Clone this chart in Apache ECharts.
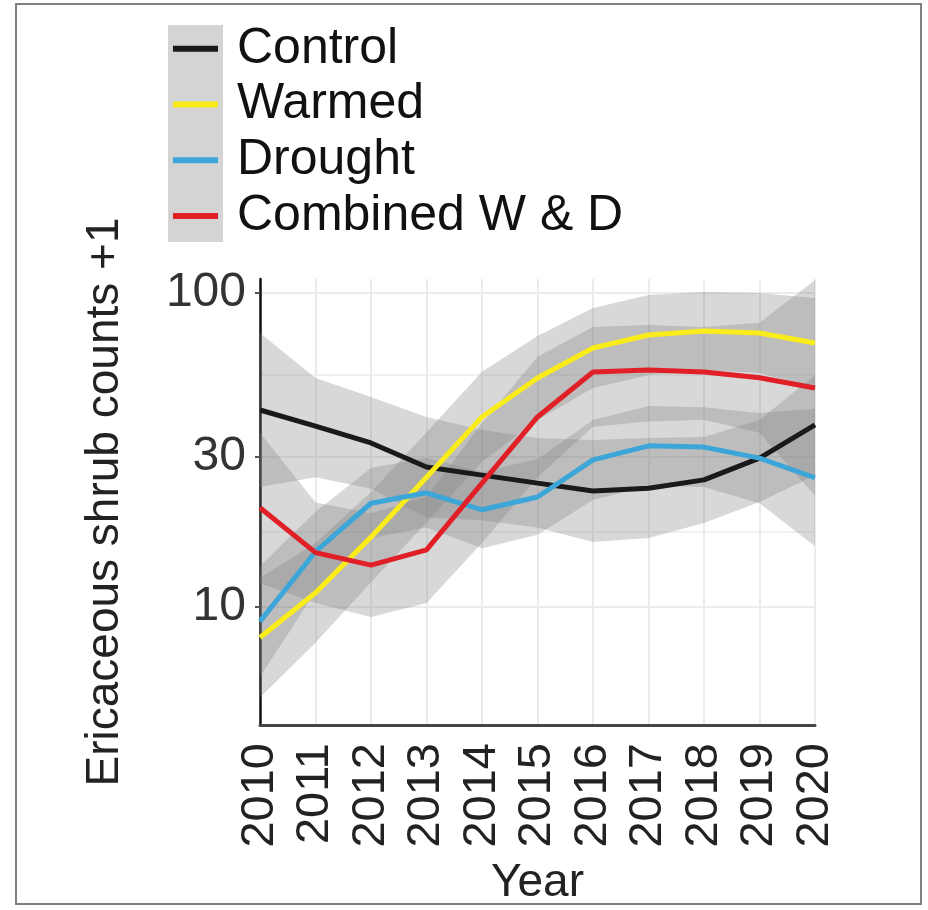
<!DOCTYPE html>
<html>
<head>
<meta charset="utf-8">
<script src="https://cdn.jsdelivr.net/npm/echarts@6/dist/echarts.min.js"></script>
<style>
html,body{margin:0;padding:0;background:#fff;}
#chart{width:928px;height:910px;}
</style>
</head>
<body>
<div id="chart"></div>
<script>
// ---- data ----
const years = ['2010','2011','2012','2013','2014','2015','2016','2017','2018','2019','2020'];
const seriesNames = ['Control','Warmed','Drought','Combined W & D'];

const controlMid = [42.4, 37.7, 33.3, 27.9, 26.3, 24.8, 23.4, 23.9, 25.4, 29.8, 38.0];
const controlHi  = [74.6, 53.6, 46.6, 40.3, 36.6, 34.5, 34.0, 34.5, 34.8, 39.4, 54.8];
const controlLo  = [24.1, 25.9, 23.8, 19.3, 18.9, 17.9, 16.1, 16.6, 18.5, 21.6, 26.3];

const warmedMid = [8.0, 11.1, 16.7, 25.9, 40.3, 53.6, 66.8, 73.5, 75.7, 74.6, 69.3];
const warmedHi  = [12.4, 16.0, 23.2, 36.0, 56.1, 73.0, 89.6, 98.6, 100.8, 100.0, 96.4];
const warmedLo  = [5.15, 7.7, 12.0, 18.6, 29.0, 39.4, 49.8, 54.8, 56.9, 55.6, 49.8];

const droughtMid = [9.0, 15.0, 21.4, 23.1, 20.4, 22.4, 29.4, 32.6, 32.3, 29.8, 25.8];
const droughtHi  = [13.5, 20.1, 27.7, 29.9, 26.9, 29.6, 39.4, 43.7, 43.3, 41.5, 42.8];
const droughtLo  = [6.0, 11.2, 16.6, 17.9, 15.4, 17.0, 21.9, 24.3, 24.1, 21.4, 15.6];

const combinedMid = [20.7, 14.9, 13.6, 15.2, 24.8, 40.3, 56.0, 56.9, 56.0, 53.7, 49.8];
const combinedHi  = [35.9, 21.5, 19.9, 22.4, 38.5, 62.6, 77.9, 79.1, 77.9, 80.4, 110.0];
const combinedLo  = [11.9, 10.3, 9.3, 10.3, 16.0, 25.9, 37.5, 39.0, 39.5, 35.9, 22.6];

const yTicks = [10, 30, 100];
const yMinorTicks = [17.32, 54.77];

// ---- styling ----
const FONT = '"Liberation Sans", Arial, Helvetica, sans-serif';
const colors = ['#1a1a1a', '#f9ec1a', '#3da6d8', '#e01f27'];
const bandFill = 'rgba(128,128,128,0.31)';
const yMin = 4.21, yMax = 110.8;

function bandSeries(lo, hi) {
  return {
    type: 'custom',
    silent: true,
    clip: true,
    z: 1,
    data: years.map((_, i) => [i, lo[i], hi[i]]),
    encode: { x: 0, y: [1, 2] },
    renderItem: function (params, api) {
      if (params.dataIndex !== 0) return null;
      const up = hi.map((v, i) => api.coord([i, v]));
      const dn = lo.map((v, i) => api.coord([i, v])).reverse();
      return {
        type: 'polygon',
        shape: { points: up.concat(dn) },
        style: { fill: bandFill, stroke: null }
      };
    }
  };
}

function lineSeries(name, data, color) {
  return {
    name: name,
    type: 'line',
    data: data,
    symbol: 'none',
    smooth: false,
    z: 3,
    lineStyle: { color: color, width: 5 },
    itemStyle: { color: color }
  };
}

const chart = echarts.init(document.getElementById('chart'), null, { renderer: 'canvas' });
chart.setOption({
  animation: false,
  backgroundColor: '#ffffff',
  textStyle: { fontFamily: FONT },
  graphic: [
    { type: 'rect', z: -10, shape: { x: 16, y: 4, width: 905, height: 900 },
      style: { fill: 'none', stroke: '#808080', lineWidth: 2 } },
    { type: 'rect', z: 0, shape: { x: 168, y: 25, width: 55, height: 217 },
      style: { fill: '#d4d4d4' } }
  ],
  legend: {
    data: seriesNames,
    orient: 'vertical',
    left: 173,
    top: 21,
    padding: 0,
    itemGap: 0,
    itemWidth: 45,
    itemHeight: 6,
    icon: 'rect',
    selectedMode: false,
    z: 5,
    textStyle: { fontSize: 50, color: '#111', lineHeight: 55.7, padding: [0, 0, 0, 14], fontFamily: FONT }
  },
  grid: { left: 260, right: 113, top: 279, bottom: 185, containLabel: false },
  xAxis: {
    type: 'category',
    data: years,
    boundaryGap: false,
    name: 'Year',
    nameLocation: 'middle',
    nameGap: 135,
    nameTextStyle: { fontSize: 46, color: '#222', fontFamily: FONT },
    axisLine: { show: true, lineStyle: { color: '#444', width: 3 } },
    axisTick: { show: false },
    axisLabel: { rotate: 90, fontSize: 47, color: '#222', margin: 18, interval: 0, fontFamily: FONT },
    splitLine: { show: true, interval: 0, lineStyle: { color: '#ebebeb', width: 2 } }
  },
  yAxis: [
    {
      type: 'log',
      logBase: 10,
      min: yMin,
      max: yMax,
      name: 'Ericaceous shrub counts +1',
      nameLocation: 'middle',
      nameGap: 132,
      nameTextStyle: { fontSize: 46, color: '#222', fontFamily: FONT },
      axisLine: { show: true, lineStyle: { color: '#111', width: 2.5 } },
      axisTick: { show: true, length: 5, customValues: yTicks, lineStyle: { color: '#555', width: 2 } },
      axisLabel: { customValues: yTicks, fontSize: 48, color: '#333', margin: 14, fontFamily: FONT },
      splitLine: { show: true, lineStyle: { color: '#ebebeb', width: 2 } }
    },
    {
      type: 'log',
      logBase: 10,
      min: yMin,
      max: yMax,
      position: 'left',
      axisLine: { show: false },
      axisTick: { show: false, customValues: yMinorTicks },
      axisLabel: { show: false, customValues: yMinorTicks },
      splitLine: { show: true, lineStyle: { color: '#ededed', width: 1.5 } }
    }
  ],
  series: [
    bandSeries(controlLo, controlHi),
    bandSeries(warmedLo, warmedHi),
    bandSeries(droughtLo, droughtHi),
    bandSeries(combinedLo, combinedHi),
    lineSeries(seriesNames[0], controlMid, colors[0]),
    lineSeries(seriesNames[1], warmedMid, colors[1]),
    lineSeries(seriesNames[2], droughtMid, colors[2]),
    lineSeries(seriesNames[3], combinedMid, colors[3])
  ]
});
</script>
</body>
</html>
